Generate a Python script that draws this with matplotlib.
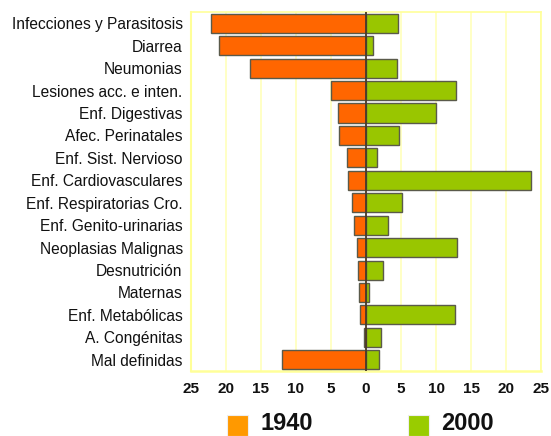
import matplotlib
matplotlib.use("Agg")
import matplotlib.pyplot as plt
from matplotlib.patches import Rectangle
import numpy as np

plt.rcParams['font.family'] = ['Liberation Sans', 'DejaVu Sans']

categories = ["Infecciones y Parasitosis", "Diarrea", "Neumonias", "Lesiones acc. e inten.",
              "Enf. Digestivas", "Afec. Perinatales", "Enf. Sist. Nervioso", "Enf. Cardiovasculares",
              "Enf. Respiratorias Cro.", "Enf. Genito-urinarias", "Neoplasias Malignas", "Desnutrición",
              "Maternas", "Enf. Metabólicas", "A. Congénitas", "Mal definidas"]
values_1940 = [22.1, 21.0, 16.5, 5.0, 4.05, 3.9, 2.7, 2.5, 2.0, 1.7, 1.3, 1.2, 1.05, 0.9, 0.25, 12.0]
values_2000 = [4.6, 1.0, 4.4, 12.8, 10.0, 4.7, 1.6, 23.6, 5.1, 3.1, 13.0, 2.4, 0.4, 12.7, 2.2, 1.8]
tick_values = [-25, -20, -15, -10, -5, 0, 5, 10, 15, 20, 25]
tick_labels = ["25", "20", "15", "10", "5", "0", "5", "10", "15", "20", "25"]
legend_labels = ["1940", "2000"]

fig = plt.figure(figsize=(5.51, 4.36), dpi=100)
ax = fig.add_axes([0.3466, 0.149, 0.6353, 0.8235])

y = np.arange(len(categories))
ax.barh(y, [-v for v in values_1940], height=0.85, color="#FF6600", edgecolor="#5a5a4a", linewidth=1.0, zorder=3)
ax.barh(y, values_2000, height=0.85, color="#99C600", edgecolor="#5a5a4a", linewidth=1.0, zorder=3)
ax.axvline(0, color="#4a3a2a", linewidth=1.3, zorder=4)

ax.set_xlim(-25, 25)
ax.set_ylim(len(categories) - 0.5, -0.5)
ax.set_yticks(y)
ax.set_yticklabels(categories, fontsize=11.2, color="#111111")
ax.set_xticks(tick_values)
ax.set_xticklabels(tick_labels, fontsize=11, fontweight="bold", color="#111111")
ax.tick_params(axis="y", length=0, pad=6)
ax.tick_params(axis="x", length=0, pad=8)
ax.grid(axis="x", color="#FFFFC0", linewidth=1.3, zorder=0)
for s in ax.spines.values():
    s.set_color("#FFFF99")
    s.set_linewidth(1.2)
ax.spines['bottom'].set_linewidth(1.8)
ax.spines['left'].set_linewidth(1.5)

# legend
leg_colors = ["#FF9900", "#99CC00"]
leg_x = [227, 408]
for lx, c, lab in zip(leg_x, leg_colors, legend_labels):
    fig.patches.append(Rectangle((lx / 551, 1 - 436 / 436), 21 / 551, 21 / 436,
                                 transform=fig.transFigure, facecolor=c,
                                 edgecolor="#eeeeee", linewidth=0.8))
    fig.text((lx + 33) / 551, 1 - 423 / 436, lab, fontsize=17, fontweight="bold",
             va="center", ha="left", color="#111111")

fig.savefig("out.png", dpi=100)
